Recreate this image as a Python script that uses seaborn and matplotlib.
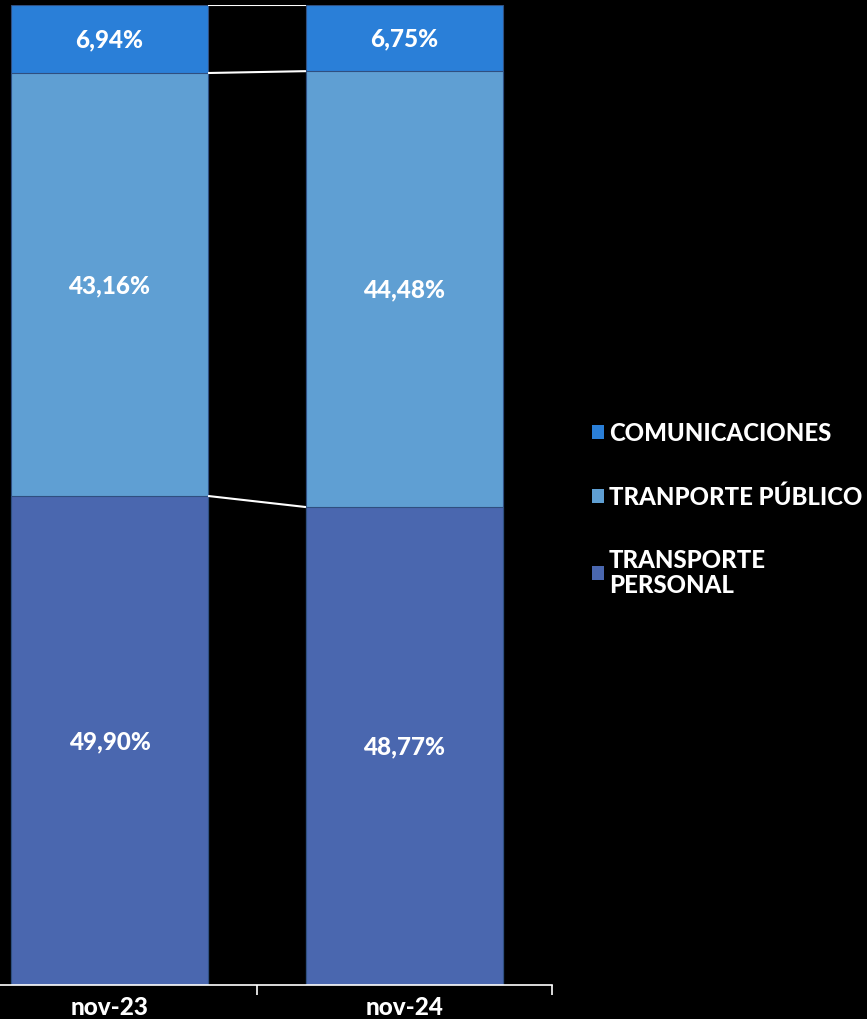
import numpy as np
import pandas as pd
import matplotlib
matplotlib.use("Agg")
import matplotlib.pyplot as plt
import seaborn as sns
from matplotlib.patches import Patch

# data (percent shares)
periods = ["nov-23", "nov-24"]
series = ["TRANSPORTE\nPERSONAL", "TRANPORTE PÚBLICO", "COMUNICACIONES"]
transporte_personal = [49.90, 48.77]
transporte_publico = [43.16, 44.48]
comunicaciones = [6.94, 6.75]

colors = {
    "TRANSPORTE\nPERSONAL": "#4A67AF",
    "TRANPORTE PÚBLICO": "#5F9FD3",
    "COMUNICACIONES": "#2A7FD8",
}

df = pd.DataFrame({
    "periodo": periods,
    "TRANSPORTE\nPERSONAL": transporte_personal,
    "TRANPORTE PÚBLICO": transporte_publico,
    "COMUNICACIONES": comunicaciones,
})

# cumulative tops for stacking
cum = df[series].cumsum(axis=1)
bottoms = cum - df[series]

sns.set_theme(style="dark")
plt.rcParams["font.family"] = ["Lato", "DejaVu Sans"]

fig = plt.figure(figsize=(8.67, 10.2), dpi=100, facecolor="black")
ax = fig.add_axes([-38 / 867, 34 / 1020, 590 / 867, 980 / 1020])
ax.set_facecolor("black")

bar_w = 0.668
# draw largest cumulative first so smaller ones sit on top
for s in series[::-1]:
    tmp = pd.DataFrame({"periodo": periods, "valor": cum[s].values})
    sns.barplot(data=tmp, x="periodo", y="valor", color=colors[s], width=bar_w,
                edgecolor="#2f4f80", linewidth=0.8, saturation=1, ax=ax)

# connector lines between bars
for s in series:
    ax.plot([0 + bar_w / 2, 1 - bar_w / 2], cum[s].values, color="white", lw=1.5,
            solid_capstyle="butt", zorder=3)

# segment labels
for i in range(len(periods)):
    for s in series:
        v = df.loc[i, s]
        y = bottoms.loc[i, s] + v / 2
        ax.text(i, y, f"{v:.2f}%".replace(".", ","), ha="center", va="center",
                color="white", fontsize=17.5, fontweight=900)

ax.set_xlim(-0.5, 1.5)
ax.set_ylim(0, 100)
ax.set_xlabel("")
ax.set_ylabel("")
ax.set_yticks([])
for side in ["top", "left", "right"]:
    ax.spines[side].set_visible(False)
ax.spines["bottom"].set_color("white")
ax.spines["bottom"].set_linewidth(1.2)
ax.tick_params(axis="x", which="major", length=0, colors="white", labelsize=17.5, pad=7)
ax.set_xticks([-0.5, 0.5, 1.5], minor=True)
ax.tick_params(axis="x", which="minor", bottom=True, length=7, color="white", width=1.2)
for lbl in ax.get_xticklabels():
    lbl.set_fontweight(900)
    lbl.set_color("white")
ax.grid(False)

handles = [Patch(facecolor=colors[s], edgecolor="none") for s in series[::-1]]
leg = fig.legend(handles, series[::-1], loc="upper left",
                 bbox_to_anchor=(570 / 867, 1 - 401 / 1020), frameon=False,
                 handlelength=0.52, handleheight=0.52, handletextpad=0.2,
                 labelspacing=1.68, prop={"weight": 900, "size": 17.2})
for t in leg.get_texts():
    t.set_color("white")
    t.set_linespacing(1.08)

fig.savefig("out.png", dpi=100, facecolor="black")
